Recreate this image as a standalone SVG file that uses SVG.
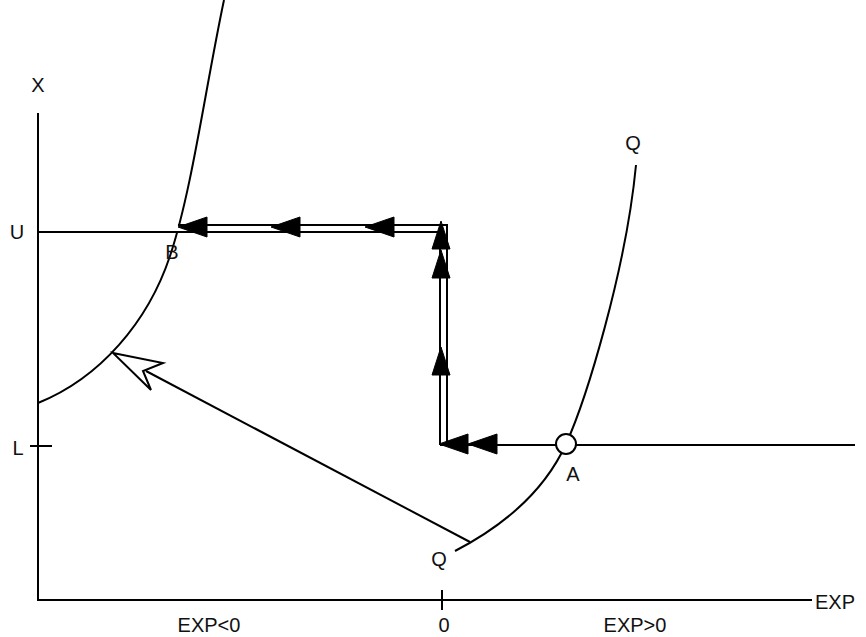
<svg xmlns="http://www.w3.org/2000/svg" width="866" height="637" viewBox="0 0 866 637">
<style>
.ln{fill:none;stroke:#000;stroke-width:2}
.ah{fill:#000;stroke:#000;stroke-width:1}
text{font-family:"Liberation Sans",Arial,sans-serif;font-size:20px;fill:#111}
</style>
<defs>
<polygon id="al" points="0,0 29,-10 29,10"/>
<polygon id="au" points="0,0 -9,28 9,28"/>
</defs>
<rect width="866" height="637" fill="#fff"/>
<g id="axes">
<line class="ln" x1="38" y1="113" x2="38" y2="601"/>
<line class="ln" x1="37" y1="600" x2="812" y2="600"/>
<line class="ln" x1="442" y1="590" x2="442" y2="610"/>
<line class="ln" x1="30" y1="446" x2="52" y2="446"/>
<text x="38" y="92" text-anchor="middle">X</text>
<text x="815" y="609">EXP</text>
<text x="209" y="632" text-anchor="middle">EXP&lt;0</text>
<text x="444" y="632" text-anchor="middle">0</text>
<text x="635" y="632" text-anchor="middle">EXP&gt;0</text>
<text x="17" y="239" text-anchor="middle">U</text>
<text x="18" y="455" text-anchor="middle">L</text>
</g>
<g id="curveB">
<path class="ln" d="M38,403 C100,378 148,322 170,256 S205,90 224,0"/>
<text x="172" y="259" text-anchor="middle">B</text>
</g>
<g id="curveQ">
<path class="ln" d="M455,551 C505,525 545,490 566,444 C586,400 626,270 636,165"/>
<text x="633" y="150" text-anchor="middle">Q</text>
<text x="439" y="566" text-anchor="middle">Q</text>
</g>
<g id="connectors">
<line class="ln" x1="38" y1="232" x2="180" y2="232"/>
<polyline points="178,228.5 443.5,228.5 443.5,445" fill="none" stroke="#000" stroke-width="9"/>
<polyline points="176,228.5 443.5,228.5 443.5,447" fill="none" stroke="#fff" stroke-width="5"/>
<line class="ln" x1="440" y1="445" x2="855" y2="445"/>
<use href="#al" class="ah" x="178" y="227"/>
<use href="#al" class="ah" x="271" y="227"/>
<use href="#al" class="ah" x="365" y="227"/>
<use href="#au" class="ah" x="441" y="221"/>
<use href="#au" class="ah" x="441" y="250"/>
<use href="#au" class="ah" x="441" y="347"/>
<use href="#al" class="ah" x="439" y="444"/>
<use href="#al" class="ah" x="468" y="444"/>
<line class="ln" x1="470" y1="542" x2="146" y2="371"/>
<polygon points="113,353 163,363 143,371 151,390" fill="#fff" stroke="#000" stroke-width="2" stroke-linejoin="miter"/>
</g>
<g id="pointA">
<circle cx="566" cy="444" r="10" fill="#fff" stroke="#000" stroke-width="2"/>
<text x="573" y="481" text-anchor="middle">A</text>
</g>
</svg>
